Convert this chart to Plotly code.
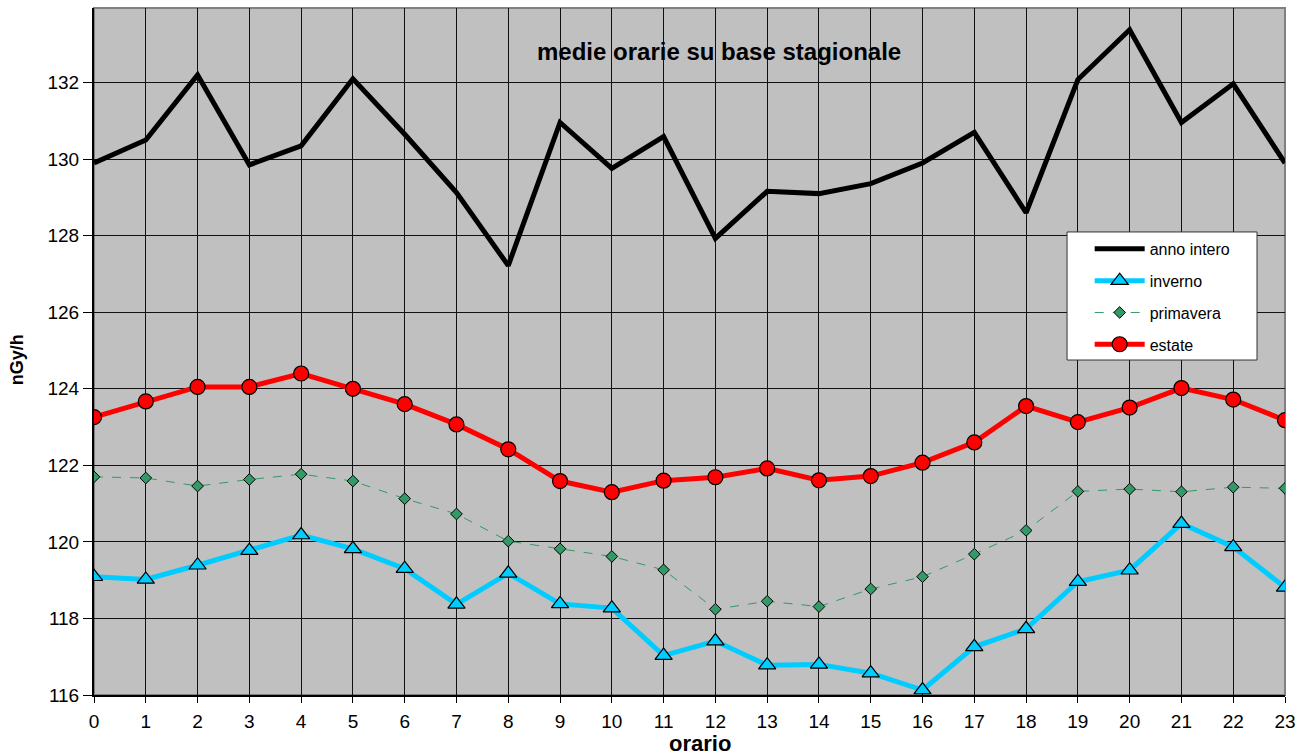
import plotly.graph_objects as go

# ore del giorno
ore = list(range(24))

anno_intero = [129.9, 130.5, 132.2, 129.85, 130.35, 132.1, 130.65, 129.13, 127.22, 130.96,
               129.76, 130.59, 127.93, 129.16, 129.1, 129.36, 129.9, 130.7, 128.6, 132.08,
               133.38, 130.96, 131.97, 129.9]
inverno = [119.09, 119.02, 119.39, 119.77, 120.18, 119.82, 119.3, 118.37, 119.18, 118.38,
           118.27, 117.03, 117.41, 116.78, 116.8, 116.57, 116.13, 117.26, 117.73, 118.96,
           119.26, 120.48, 119.87, 118.81]
primavera = [121.7, 121.67, 121.46, 121.63, 121.77, 121.59, 121.13, 120.73, 120.02, 119.82,
             119.62, 119.27, 118.24, 118.45, 118.31, 118.77, 119.09, 119.68, 120.3, 121.32,
             121.38, 121.31, 121.43, 121.4]
estate = [123.26, 123.67, 124.05, 124.05, 124.4, 124.0, 123.6, 123.07, 122.42, 121.59,
          121.3, 121.6, 121.69, 121.92, 121.61, 121.72, 122.07, 122.6, 123.55, 123.13,
          123.51, 124.02, 123.72, 123.18]

y_ticks = [116, 118, 120, 122, 124, 126, 128, 130, 132]

FONT = "Liberation Sans, Arial, sans-serif"

fig = go.Figure()

fig.add_trace(go.Scatter(
    x=ore, y=anno_intero, name="anno intero", legendgroup="a",
    mode="lines", line=dict(color="black", width=5)))

fig.add_trace(go.Scatter(
    x=ore, y=inverno, name="inverno", legendgroup="b",
    mode="lines+markers", line=dict(color="#00CCFF", width=5),
    marker=dict(symbol="triangle-up", size=15, color="#00CCFF",
                line=dict(color="black", width=1.2))))

fig.add_trace(go.Scatter(
    x=ore, y=primavera, name="primavera", legendgroup="c",
    mode="lines+markers", line=dict(color="#339966", width=1, dash="dash"),
    marker=dict(symbol="diamond", size=9, color="#339966",
                line=dict(color="black", width=1))))

fig.add_trace(go.Scatter(
    x=ore, y=estate, name="estate", legendgroup="d",
    mode="lines+markers", line=dict(color="#FF0000", width=5),
    marker=dict(symbol="circle", size=15, color="#FF0000",
                line=dict(color="black", width=1.2))))

# bordo grigio dell'area del grafico
fig.add_shape(type="rect", xref="paper", yref="paper", x0=0, x1=1, y0=0, y1=1,
              line=dict(color="#808080", width=2), layer="between")
# riquadro bianco della legenda
fig.add_shape(type="rect", xref="paper", yref="paper", x0=0.817, x1=0.9765, y0=0.4876, y1=0.674,
              fillcolor="white", line=dict(color="#333", width=1), layer="above")

fig.add_annotation(text="<b>medie orarie su base stagionale</b>", xref="paper", yref="paper",
                   x=0.525, y=0.936, xanchor="center", yanchor="middle", showarrow=False,
                   font=dict(size=24, color="black"))
fig.add_annotation(text="<b>orario</b>", xref="paper", yref="paper",
                   x=0.509, y=-0.07, xanchor="center", yanchor="middle", showarrow=False,
                   font=dict(size=22, color="black"))
fig.add_annotation(text="<b>nGy/h</b>", xref="paper", yref="paper",
                   x=-0.065, y=0.488, xanchor="center", yanchor="middle", textangle=-90,
                   showarrow=False, font=dict(size=18, color="black"))

tick_font = dict(family=FONT, size=19, color="black")

fig.update_layout(
    width=1303, height=756,
    margin=dict(l=94, r=18, t=8, b=61),
    paper_bgcolor="white",
    plot_bgcolor="#C0C0C0",
    font=dict(family=FONT, size=19, color="black"),
    showlegend=True,
    legend=dict(x=0.836, y=0.674, xanchor="left", yanchor="top",
                bgcolor="rgba(0,0,0,0)", borderwidth=0,
                font=dict(size=16), itemwidth=50, tracegroupgap=8,
                traceorder="grouped"),
    xaxis=dict(range=[0, 23], tickmode="array", tickvals=ore, tickfont=tick_font,
               showgrid=True, gridcolor="#111", gridwidth=1,
               showline=True, linecolor="black", linewidth=2,
               ticks="outside", ticklen=6, tickcolor="black",
               ticklabelstandoff=2, zeroline=False),
    yaxis=dict(range=[116, 133.95], tickmode="array", tickvals=y_ticks, tickfont=tick_font,
               showgrid=True, gridcolor="#111", gridwidth=1,
               showline=True, linecolor="black", linewidth=2,
               ticks="outside", ticklen=9, tickcolor="black",
               zeroline=False),
)

fig.write_html("out.html", config={"displayModeBar": False},
               post_script="document.body.style.margin='0';")
